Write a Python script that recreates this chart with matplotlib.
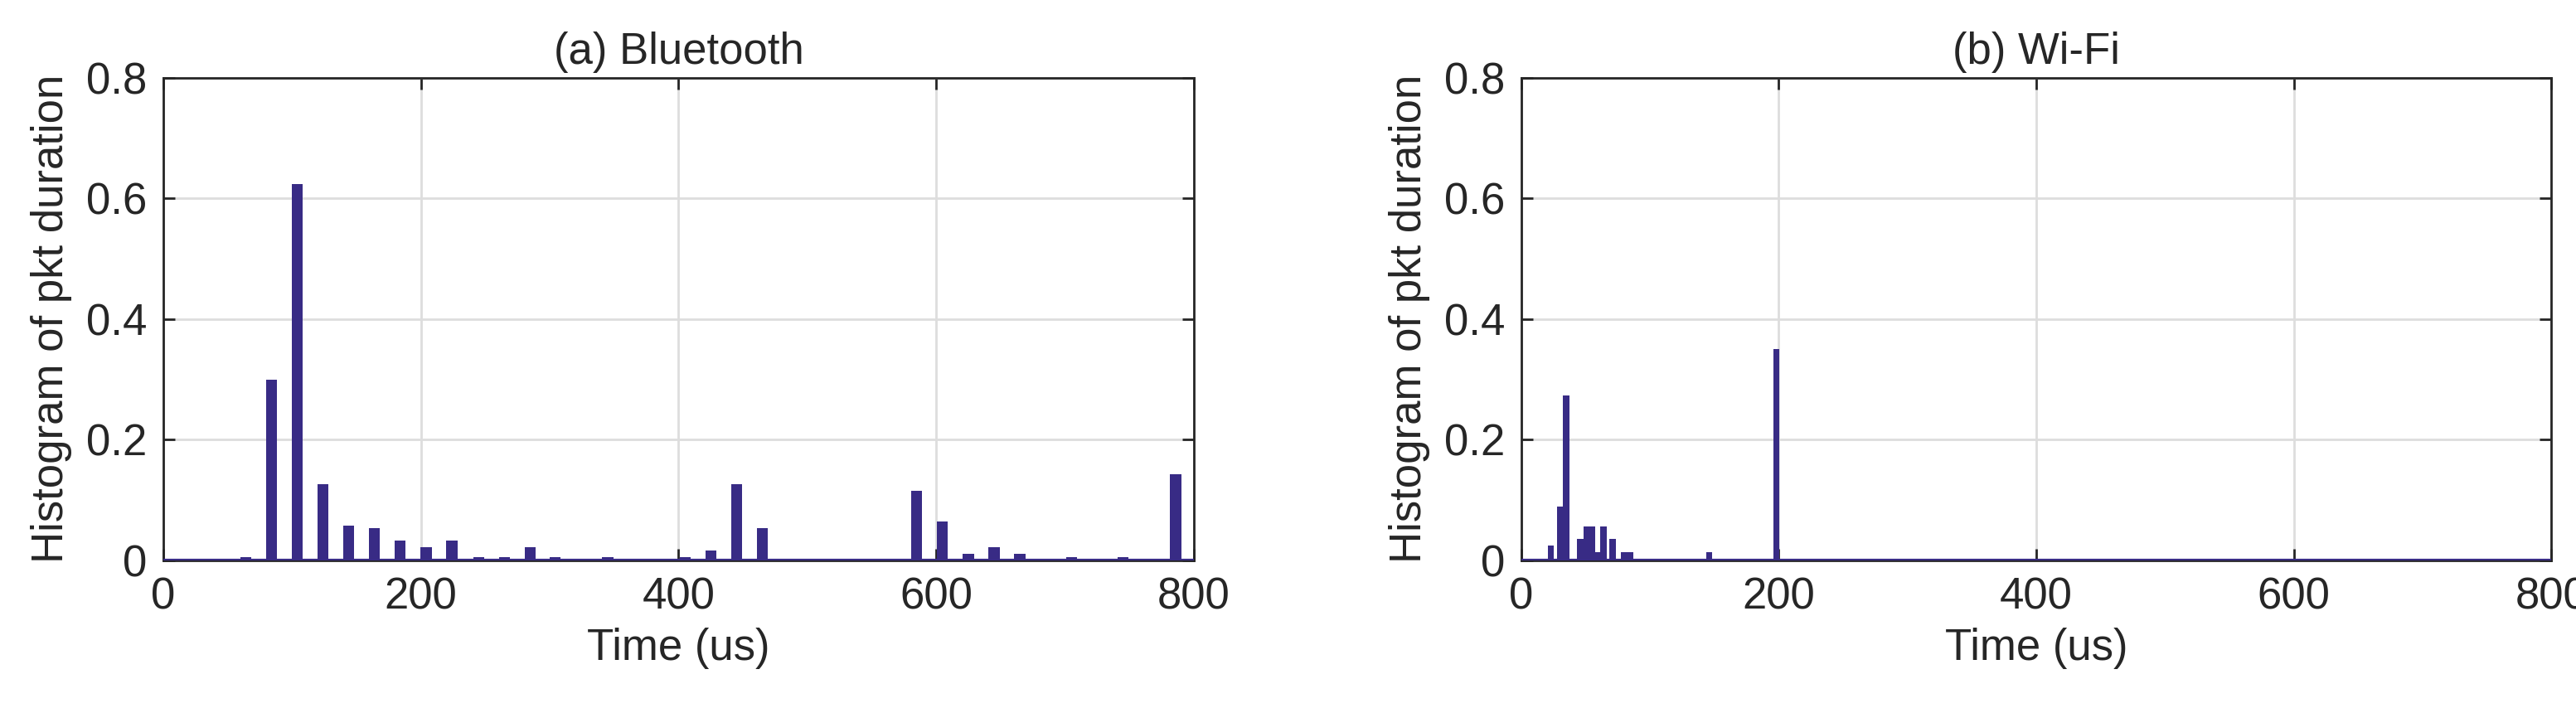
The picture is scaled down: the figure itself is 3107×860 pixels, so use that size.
import matplotlib
matplotlib.use("Agg")
import matplotlib.pyplot as plt

plt.rcParams['font.family'] = ['Liberation Sans', 'DejaVu Sans']

bt_x = [64, 84, 104, 124, 144, 164, 184, 204, 224, 245, 265, 285, 304, 345, 405, 425, 445, 465, 585, 605, 625, 645, 665, 705, 745, 786]
bt_y = [0.005, 0.299, 0.624, 0.127, 0.058, 0.053, 0.033, 0.022, 0.033, 0.005, 0.005, 0.022, 0.005, 0.005, 0.005, 0.016, 0.127, 0.053, 0.116, 0.064, 0.011, 0.022, 0.011, 0.005, 0.005, 0.143]
wf_x = [23, 30, 35, 46, 51, 55, 59, 64, 71, 80, 85, 146, 198]
wf_y = [0.024, 0.089, 0.273, 0.035, 0.056, 0.056, 0.013, 0.056, 0.035, 0.013, 0.013, 0.013, 0.35]
titles = ['(a) Bluetooth', '(b) Wi-Fi']
xticks = [0, 200, 400, 600, 800]
yticks = [0, 0.2, 0.4, 0.6, 0.8]
color = '#382b85'

fig = plt.figure(figsize=(31.07, 8.6), dpi=100)
axes = [fig.add_axes([0.0634, 0.214, 0.4, 0.677]), fig.add_axes([0.5905, 0.214, 0.4, 0.677])]
data = [(bt_x, bt_y, 8.5), (wf_x, wf_y, 4.8)]
for ax, (xs, ys, w), t in zip(axes, data, titles):
    ax.bar(xs, ys, width=w, color=color, zorder=3)
    ax.plot([0, 800], [0, 0], color=color, lw=3, zorder=3)
    ax.set_xlim(0, 800)
    ax.set_ylim(0, 0.8)
    ax.set_xticks(xticks)
    ax.set_yticks(yticks)
    ax.set_yticklabels(['0', '0.2', '0.4', '0.6', '0.8'])
    ax.grid(True, color='#dddddd', lw=2, zorder=0)
    ax.tick_params(direction='in', length=10, width=2, labelsize=38, pad=14, top=True, right=True, color='#262626', labelcolor='#262626')
    for s in ax.spines.values():
        s.set_linewidth(2)
        s.set_color('#262626')
    ax.set_title(t, fontsize=38, color='#262626', pad=12)
    ax.set_xlabel('Time (us)', fontsize=38, color='#262626', labelpad=8)
    ax.set_ylabel('Histogram of pkt duration', fontsize=38, color='#262626', labelpad=12)
fig.savefig('out.png', dpi=100)
